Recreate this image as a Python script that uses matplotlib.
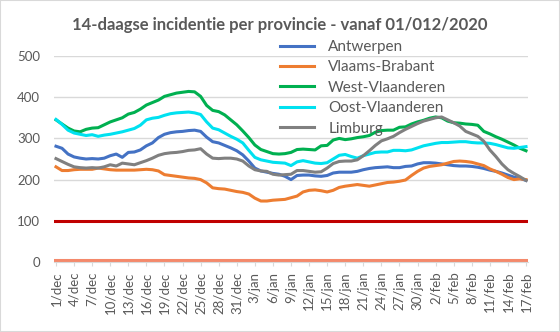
# -*- coding: utf-8 -*-
"""14-daagse incidentie per provincie (vanaf 1 december 2020)."""
import matplotlib
matplotlib.use("Agg")
import matplotlib.pyplot as plt
from matplotlib.patches import Rectangle
import pandas as pd

# ---------------------------------------------------------------- data
DAYS = pd.date_range("2020-12-01", "2021-02-17", freq="D")
MONTHS_NL = {12: "dec", 1: "jan", 2: "feb"}

antwerpen = [
    281, 276, 262, 255, 252, 250, 251, 250, 252, 258, 262, 254, 266, 267, 272, 282, 289, 302, 310, 314,
    316, 317, 319, 320, 317, 303, 292, 289, 283, 277, 270, 260, 245, 228, 221, 218, 215, 213, 208, 200,
    210, 211, 211, 209, 208, 210, 216, 218, 218, 218, 220, 224, 227, 229, 230, 231, 229, 229, 232, 233,
    238, 241, 241, 240, 238, 236, 234, 233, 233, 232, 230, 227, 223, 220, 216, 211, 206, 203, 198,
]
vlaams_brabant = [
    231, 222, 222, 224, 225, 225, 225, 228, 226, 224, 223, 223, 223, 223, 224, 225, 224, 221, 212, 210,
    208, 206, 204, 203, 200, 192, 180, 178, 177, 174, 171, 169, 165, 155, 148, 148, 150, 151, 152, 156,
    160, 170, 174, 175, 173, 170, 174, 181, 184, 186, 188, 186, 184, 187, 190, 193, 194, 196, 199, 210,
    220, 228, 232, 234, 236, 240, 244, 245, 244, 242, 238, 234, 226, 220, 213, 205, 200, 202, 200,
]
west_vlaanderen = [
    345, 335, 325, 318, 316, 322, 325, 326, 333, 340, 345, 350, 359, 363, 371, 381, 387, 393, 402, 406,
    410, 412, 414, 413, 402, 380, 368, 365, 357, 345, 333, 318, 302, 284, 273, 268, 263, 262, 263, 266,
    273, 274, 273, 272, 282, 283, 296, 300, 297, 299, 302, 304, 307, 315, 319, 320, 320, 327, 328, 335,
    340, 344, 349, 352, 350, 342, 338, 337, 335, 334, 332, 317, 311, 304, 298, 291, 284, 276, 270,
]
oost_vlaanderen = [
    346, 334, 320, 313, 310, 307, 309, 305, 308, 310, 313, 316, 320, 324, 332, 345, 349, 351, 356, 360,
    362, 363, 364, 362, 358, 340, 325, 321, 313, 305, 298, 289, 271, 254, 248, 245, 242, 241, 240, 234,
    243, 246, 243, 240, 239, 241, 250, 259, 261, 256, 252, 258, 262, 266, 267, 267, 271, 271, 270, 272,
    277, 282, 285, 288, 290, 290, 291, 292, 292, 290, 289, 289, 288, 285, 281, 277, 276, 278, 280,
]
limburg = [
    251, 244, 237, 231, 229, 228, 229, 228, 231, 236, 233, 240, 238, 236, 241, 246, 252, 259, 263, 265,
    266, 268, 271, 272, 275, 262, 252, 251, 252, 252, 250, 245, 233, 224, 221, 220, 213, 211, 212, 213,
    222, 222, 220, 218, 219, 228, 239, 244, 245, 245, 248, 258, 270, 283, 294, 299, 305, 314, 322, 329,
    336, 342, 346, 350, 352, 345, 338, 330, 317, 311, 305, 293, 272, 256, 238, 224, 215, 207, 198,
]

SERIES = [
    ("Antwerpen", antwerpen, "#4472C4"),
    ("Vlaams-Brabant", vlaams_brabant, "#ED7D31"),
    ("West-Vlaanderen", west_vlaanderen, "#00B050"),
    ("Oost-Vlaanderen", oost_vlaanderen, "#00E1F0"),
    ("Limburg", limburg, "#808080"),
]
ALARM_LEVEL = 100   # rode lijn
LOW_LEVEL = 5       # zalmkleurige lijn onderaan

# ---------------------------------------------------------------- stijl
INK = "#595959"
GRID = "#D9D9D9"
plt.rcParams["font.family"] = ["Lato", "DejaVu Sans"]

fig = plt.figure(figsize=(5.6, 3.32), dpi=100)
ax = fig.add_axes([54 / 560, 70 / 332, 474 / 560, 206 / 332])

x = list(range(len(DAYS)))
ax.axhline(ALARM_LEVEL, color="#C00000", linewidth=2.2, zorder=2)
ax.axhline(LOW_LEVEL, color="#F4896B", linewidth=2.2, zorder=2)
for name, values, color in SERIES:
    ax.plot(x, values, color=color, linewidth=2.2, label=name, zorder=3)

ax.set_ylim(0, 500)
ax.set_xlim(-0.33, len(DAYS) - 1 + 0.33)
ax.set_yticks(range(0, 501, 100))
ax.yaxis.grid(True, color=GRID, linewidth=1, zorder=0)
ax.set_axisbelow(True)

ticks = x[::3]
ax.set_xticks(ticks)
ax.set_xticklabels([f"{DAYS[i].day}/{MONTHS_NL[DAYS[i].month]}" for i in ticks],
                   rotation=90, fontsize=9.5, color=INK)
ax.tick_params(axis="y", length=0, pad=10, labelsize=9.5, labelcolor=INK)
ax.tick_params(axis="x", length=3, pad=4, color=GRID)

for spine in ("top", "right", "left"):
    ax.spines[spine].set_visible(False)
ax.spines["bottom"].set_color(GRID)

ax.legend(loc="upper left", bbox_to_anchor=(280 / 560, 1 - 40 / 332),
          bbox_transform=fig.transFigure, frameon=False, fontsize=11,
          labelcolor=INK, handlelength=2.2, handletextpad=0.95,
          labelspacing=0.42, borderpad=0, borderaxespad=0)

fig.text(0.5, 1 - 25 / 332, "14-daagse incidentie per provincie - vanaf 01/012/2020",
         ha="center", va="center", fontsize=12, fontweight="bold", color=INK)
fig.patches.append(Rectangle((0, 0), 1, 1, transform=fig.transFigure, fill=False,
                             edgecolor=GRID, linewidth=1.5))

fig.savefig("out.png", dpi=100)
